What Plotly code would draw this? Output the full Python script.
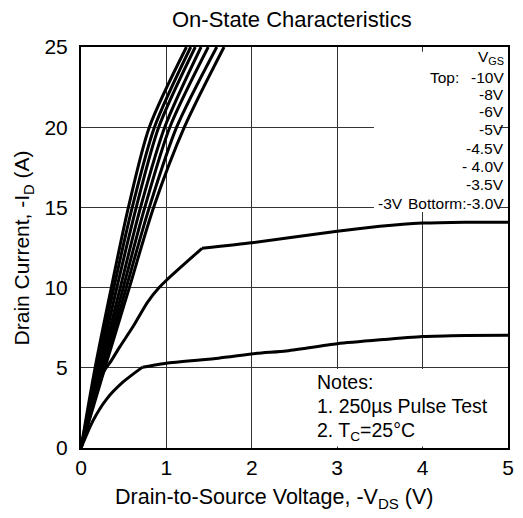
import plotly.graph_objects as go

# ---------------- data ----------------
id_bundle = [0, 5, 10, 15, 20, 25]
vds_m10 = [0, 0.165, 0.355, 0.555, 0.80, 1.235]
vds_m8 = [0, 0.185, 0.385, 0.600, 0.86, 1.285]
vds_m6 = [0, 0.205, 0.420, 0.647, 0.91, 1.338]
vds_m5 = [0, 0.225, 0.460, 0.697, 0.98, 1.406]
vds_m45 = [0, 0.245, 0.495, 0.747, 1.04, 1.490]
vds_m40 = [0, 0.265, 0.530, 0.800, 1.12, 1.590]
vds_m35 = [0, 0.280, 0.566, 0.850, 1.21, 1.675]

vds_m3 = [0, 0.258, 0.355, 0.452, 0.606, 0.78, 0.915, 1.0, 1.417, 2.0, 3.0, 3.5, 4.0, 4.5, 5.0]
id_m3 = [0, 4.67, 5.45, 6.29, 7.54, 9.1, 10.0, 10.46, 12.45, 12.79, 13.52, 13.82, 14.02, 14.08, 14.08]
kink_m3 = 8  # index of the knee point

vds_m30 = [0, 0.14, 0.30, 0.49, 0.72, 1.0, 1.61, 2.06, 2.4, 3.0, 4.0, 4.5, 5.0]
id_m30 = [0, 1.7, 3.05, 4.1, 5.04, 5.29, 5.6, 5.9, 6.05, 6.5, 6.95, 7.02, 7.03]
kink_m30 = 4

legend_labels = ["V<sub>GS</sub>", "-10V", "-8V", "-6V", "-5V", "-4.5V", "- 4.0V", "-3.5V", "Bottorm:-3.0V"]
legend_y = [24.35, 23.1, 22.07, 20.95, 19.83, 18.70, 17.55, 16.40, 15.27]

notes = ["Notes:", "1. 250µs Pulse Test", "2. T<sub>C</sub>=25°C"]
notes_y = [4.1, 2.6, 1.05]

x_ticks = [0, 1, 2, 3, 4, 5]
y_ticks = [0, 5, 10, 15, 20, 25]

FONT = "Liberation Sans, Arial, Helvetica, sans-serif"
LEG = 15.5

fig = go.Figure()
for xs in [vds_m10, vds_m8, vds_m6, vds_m5, vds_m45, vds_m40, vds_m35]:
    fig.add_trace(go.Scatter(x=xs, y=id_bundle, mode="lines",
                             line=dict(color="black", width=3, shape="spline", smoothing=0.8),
                             showlegend=False, hoverinfo="skip"))
for xs, ys, k in [(vds_m3, id_m3, kink_m3), (vds_m30, id_m30, kink_m30)]:
    fig.add_trace(go.Scatter(x=xs[:k + 1], y=ys[:k + 1], mode="lines",
                             line=dict(color="black", width=3, shape="spline", smoothing=0.7),
                             showlegend=False, hoverinfo="skip"))
    fig.add_trace(go.Scatter(x=xs[k:], y=ys[k:], mode="lines",
                             line=dict(color="black", width=3, shape="spline", smoothing=0.5),
                             showlegend=False, hoverinfo="skip"))

# white boxes hiding grid behind legend text and notes
fig.add_shape(type="rect", xref="x", yref="y", x0=3.43, x1=4.9, y0=14.72, y1=24.7,
              fillcolor="white", line=dict(width=0), layer="between")
fig.add_shape(type="rect", xref="x", yref="y", x0=2.64, x1=4.99, y0=0.1, y1=4.93,
              fillcolor="white", line=dict(width=0), layer="between")

for lab, yy in zip(legend_labels, legend_y):
    fig.add_annotation(x=4.975, y=yy, xref="x", yref="y", text=lab, showarrow=False,
                       xanchor="right", yanchor="middle", font=dict(size=LEG, color="black", family=FONT))
fig.add_annotation(x=4.45, y=legend_y[1], xref="x", yref="y", text="Top:", showarrow=False,
                   xanchor="right", yanchor="middle", font=dict(size=LEG, color="black", family=FONT))
fig.add_annotation(x=3.45, y=legend_y[-1], xref="x", yref="y", text="-3V", showarrow=False,
                   xanchor="left", yanchor="middle", font=dict(size=LEG, color="black", family=FONT))

for t, yy in zip(notes, notes_y):
    fig.add_annotation(x=2.74, y=yy, xref="x", yref="y", text=t, showarrow=False,
                       xanchor="left", yanchor="middle", font=dict(size=19.5, color="black", family=FONT))

fig.add_annotation(x=0.495, y=1.068, xref="paper", yref="paper", text="On-State Characteristics",
                   showarrow=False, xanchor="center", yanchor="middle",
                   font=dict(size=22, color="black", family=FONT))
fig.add_annotation(x=0.452, y=-0.125, xref="paper", yref="paper",
                   text="Drain-to-Source Voltage, -V<sub>DS</sub> (V)",
                   showarrow=False, xanchor="center", yanchor="middle",
                   font=dict(size=21.5, color="black", family=FONT))
fig.add_annotation(x=-0.136, y=0.5, xref="paper", yref="paper",
                   text="Drain Current, -I<sub>D</sub> (A)", textangle=-90,
                   showarrow=False, xanchor="center", yanchor="middle",
                   font=dict(size=21, color="black", family=FONT))

fig.update_layout(
    width=523, height=518,
    margin=dict(l=81, r=9, t=47, b=70),
    paper_bgcolor="white", plot_bgcolor="white",
    font=dict(family=FONT, color="black"),
    showlegend=False,
)
fig.update_xaxes(range=[0, 5], tickvals=x_ticks, ticktext=[str(v) for v in x_ticks],
                 showgrid=True, gridcolor="#333333", gridwidth=1, zeroline=False,
                 showline=True, linecolor="black", linewidth=2, mirror=True,
                 ticks="", tickfont=dict(size=21, color="black", family=FONT),
                 ticklabelstandoff=0, fixedrange=True)
fig.update_yaxes(range=[0, 25], tickvals=y_ticks, ticktext=[str(v) for v in y_ticks],
                 showgrid=True, gridcolor="#333333", gridwidth=1, zeroline=False,
                 showline=True, linecolor="black", linewidth=2, mirror=True,
                 ticks="", tickfont=dict(size=21, color="black", family=FONT),
                 ticklabelstandoff=7, fixedrange=True)

fig.write_html("out.html")
